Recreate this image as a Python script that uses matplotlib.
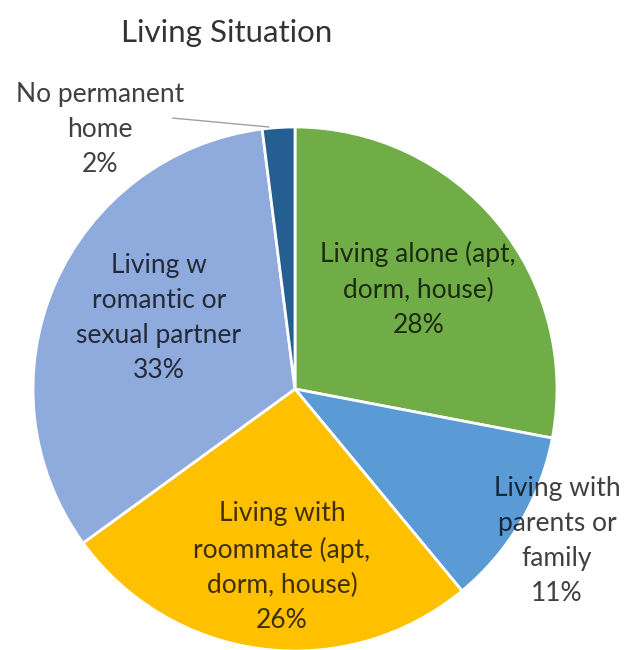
import matplotlib.pyplot as plt

# living situation shares (percent), clockwise from the top
labels = ['Living alone (apt,\ndorm, house)',
          'Living with\nparents or\nfamily',
          'Living with\nroommate (apt,\ndorm, house)',
          'Living w\nromantic or\nsexual partner',
          'No permanent\nhome']
shares = [28, 11, 26, 33, 2]
colors = ['#70AD47', '#5B9BD5', '#FFC000', '#8FAADC', '#255E91']

# label centres in pie-radius units (pie centre = 0,0)
label_pos = [(0.47, 0.38), (1.00, -0.58), (-0.05, -0.68), (-0.52, 0.27), (-0.745, 0.99)]

plt.rcParams['font.family'] = ['Lato', 'DejaVu Sans']

fig = plt.figure(figsize=(6.36, 6.5), dpi=100)
ax = fig.add_axes([0, 0, 1, 1])

wedges, _ = ax.pie(shares, colors=colors, startangle=90, counterclock=False,
                   radius=1, wedgeprops=dict(edgecolor='white', linewidth=2))

for lab, val, (x, y) in zip(labels, shares, label_pos):
    ax.text(x, y, f'{lab}\n{val}%', ha='center', va='center', fontsize=19,
            color='black', alpha=0.75, linespacing=1.5)

# leader line for the tiny slice
ax.plot([-0.466, -0.10], [1.034, 1.0], color='#a0a0a0', lw=1)

ax.text(-0.26, 1.36, 'Living Situation', ha='center', va='center',
        fontsize=22.5, color='black', alpha=0.8)

# 262 px per radius, centre at (295, 389) from the top-left
ax.set_xlim(-295 / 262, (636 - 295) / 262)
ax.set_ylim(-(650 - 389) / 262, 389 / 262)
ax.set_aspect('auto')
ax.axis('off')

fig.savefig('out.png', dpi=100)
